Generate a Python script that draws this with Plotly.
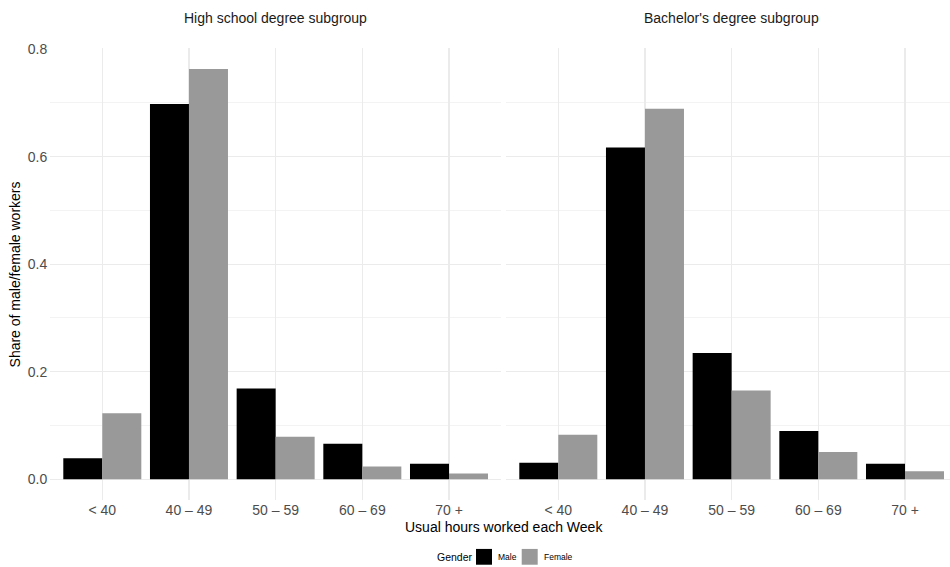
import plotly.graph_objects as go

# ---- data ----
categories = ["< 40", "40 – 49", "50 – 59", "60 – 69", "70 +"]
hs_male = [0.039, 0.698, 0.169, 0.066, 0.029]
hs_female = [0.123, 0.763, 0.079, 0.024, 0.011]
ba_male = [0.031, 0.617, 0.235, 0.090, 0.029]
ba_female = [0.083, 0.689, 0.165, 0.051, 0.015]
y_ticks = [0.0, 0.2, 0.4, 0.6, 0.8]
y_tick_labels = ["0.0", "0.2", "0.4", "0.6", "0.8"]
facet_titles = ["High school degree subgroup", "Bachelor's degree subgroup"]
series_names = ["Male", "Female"]
legend_title = "Gender"

W, H = 950, 567
FONT = "Liberation Sans, Arial, Helvetica, sans-serif"
COLORS = {"Male": "#000000", "Female": "#999999"}
GRID = "#EBEBEB"
TICK_C = "#4D4D4D"

fig = go.Figure()
for xa, ya, vals in [("x", "y", (hs_male, hs_female)), ("x2", "y2", (ba_male, ba_female))]:
    for name, v in zip(series_names, vals):
        fig.add_trace(go.Bar(x=categories, y=v, name=name, marker_color=COLORS[name],
                             marker_line_width=0, xaxis=xa, yaxis=ya,
                             legendgroup=name, showlegend=False))

ymax = max(hs_male + hs_female + ba_male + ba_female)
yrange = [-0.05 * ymax, 1.05 * ymax]

# panel geometry (pixels)
p_top, p_bot = 42, 499
left_l, left_r = 50.3, 501.0
right_l = 506.3
unit = (left_r - left_l) / 5.2
right_hi = -0.6 + (W - right_l) / unit

ydom = [1 - p_bot / H, 1 - p_top / H]

xcommon = dict(type="category", showgrid=True, gridcolor=GRID, gridwidth=1.1,
               zeroline=False, showline=False, ticks="",
               tickfont=dict(family=FONT, size=14, color=TICK_C),
               ticklabelstandoff=0, fixedrange=True)
ycommon = dict(range=yrange, showgrid=True, gridcolor=GRID, gridwidth=1.1,
               zeroline=False, showline=False, ticks="",
               tickvals=y_ticks, ticktext=y_tick_labels,
               minor=dict(dtick=0.1, tick0=0, showgrid=True, gridcolor=GRID, gridwidth=0.6),
               tickfont=dict(family=FONT, size=14, color=TICK_C), domain=ydom,
               fixedrange=True)


def px(x):
    return x / W


def py(y):
    return 1 - y / H


annotations = [
    dict(text=facet_titles[0], x=px((left_l + left_r) / 2), y=py(11.5),
         font=dict(size=14, family=FONT, color="#1A1A1A")),
    dict(text=facet_titles[1], x=px(right_l + 2.6 * unit), y=py(11.5),
         font=dict(size=14, family=FONT, color="#1A1A1A")),
    dict(text="Usual hours worked each Week", x=px(503.7), y=py(526),
         font=dict(size=14, family=FONT, color="#000000")),
    dict(text="Share of male/female workers", x=px(15.3), y=py(270.5), textangle=-90,
         font=dict(size=14, family=FONT, color="#000000")),
    dict(text=legend_title, x=px(434.7), y=py(556.7), xanchor="left",
         font=dict(size=10.5, family=FONT, color="#000000")),
    dict(text=series_names[0], x=px(496.3), y=py(556.7), xanchor="left",
         font=dict(size=8.5, family=FONT, color="#000000")),
    dict(text=series_names[1], x=px(541.7), y=py(556.7), xanchor="left",
         font=dict(size=8.5, family=FONT, color="#000000")),
]
for a in annotations:
    a.setdefault("xanchor", "center")
    a.update(xref="paper", yref="paper", showarrow=False, yanchor="middle")

shapes = [
    dict(type="rect", xref="paper", yref="paper", x0=px(476), x1=px(492),
         y0=py(564.7), y1=py(548.7), fillcolor=COLORS["Male"], line_width=0),
    dict(type="rect", xref="paper", yref="paper", x0=px(521.7), x1=px(537.7),
         y0=py(564.7), y1=py(548.7), fillcolor=COLORS["Female"], line_width=0),
]

fig.update_layout(
    width=W, height=H,
    margin=dict(l=0, r=0, t=0, b=0),
    paper_bgcolor="white", plot_bgcolor="white",
    barmode="group", bargap=0.1, bargroupgap=0,
    font=dict(family=FONT, color="#000000"),
    showlegend=False,
    hovermode=False,
    xaxis=dict(xcommon, domain=[px(left_l), px(left_r)], range=[-0.6, 4.6], anchor="y"),
    xaxis2=dict(xcommon, domain=[px(right_l), 1.0], range=[-0.6, right_hi], anchor="y2"),
    yaxis=dict(ycommon, anchor="x", ticklabelstandoff=2),
    yaxis2=dict(ycommon, anchor="x2", showticklabels=False, matches="y"),
    annotations=annotations,
    shapes=shapes,
)

fig.write_html("out.html",
               config={"displayModeBar": False, "staticPlot": True},
               post_script="document.body.style.margin='0';document.body.style.overflow='hidden';")
